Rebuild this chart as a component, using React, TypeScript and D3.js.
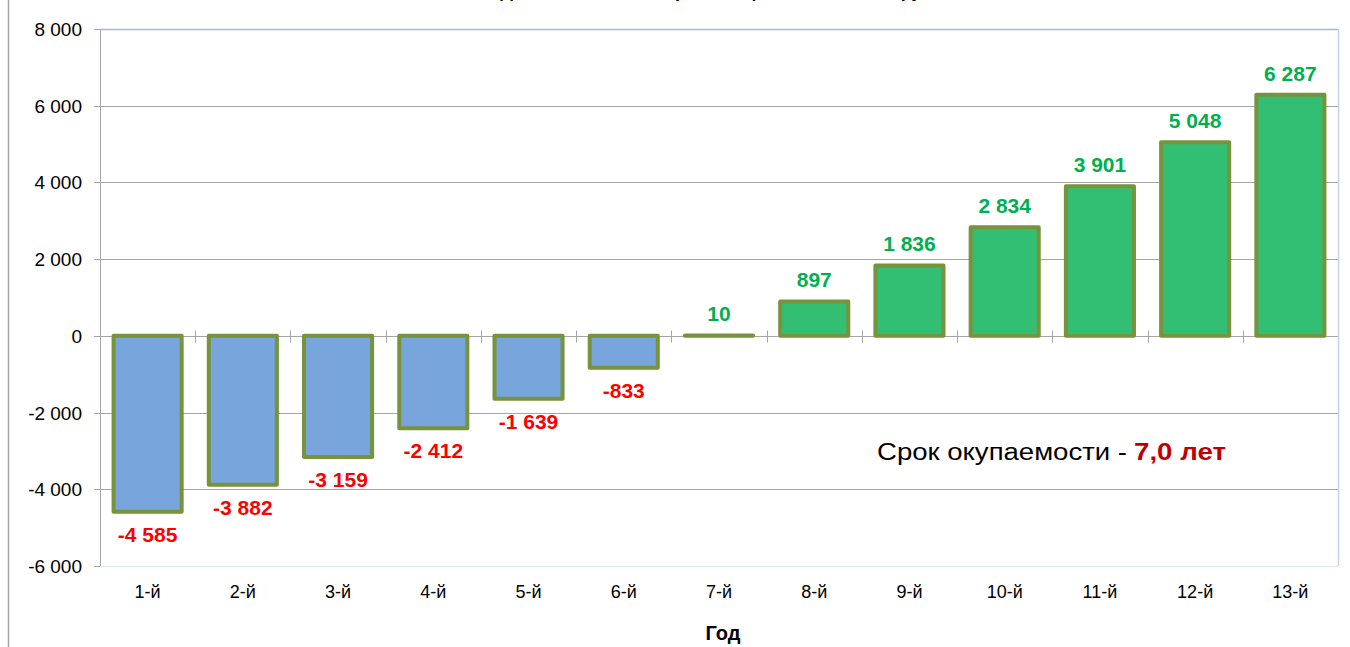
import React, { useRef, useEffect } from "react";
import * as d3 from "d3";

const years = ["1-й", "2-й", "3-й", "4-й", "5-й", "6-й", "7-й", "8-й", "9-й", "10-й", "11-й", "12-й", "13-й"];
const flows = [-4585, -3882, -3159, -2412, -1639, -833, 10, 897, 1836, 2834, 3901, 5048, 6287];
const yTicks = [-6000, -4000, -2000, 0, 2000, 4000, 6000, 8000];

const fmt = (v: number) => {
  const s = Math.abs(v).toString().replace(/\B(?=(\d{3})+(?!\d))/g, " ");
  return (v < 0 ? "-" : "") + s;
};

const App: React.FC = () => {
  const ref = useRef<SVGSVGElement>(null);

  useEffect(() => {
    if (!ref.current) return;
    const svg = d3.select(ref.current);
    svg.selectAll("*").remove();

    const left = 100, right = 1338, top = 29, bottom = 566;
    const font = "Arial, 'Liberation Sans', sans-serif";

    const x = d3.scaleBand().domain(years).range([left, right]).paddingInner(0.285).paddingOuter(0.1425);
    const xb = d3.scaleBand().domain(years).range([left, right]);
    const y = d3.scaleLinear().domain([-6000, 8000]).range([bottom, top]);

    // outer frame edge
    svg.append("line").attr("x1", 8.5).attr("x2", 8.5).attr("y1", 0).attr("y2", 647)
      .attr("stroke", "#a6a6a6").attr("stroke-width", 1.5);

    // title (mostly above the visible area, as in the source)
    svg.append("text").attr("x", 719).attr("y", -3).attr("text-anchor", "middle")
      .attr("font-family", font).attr("font-weight", "bold").attr("font-size", 18)
      .text("Денежный поток нарастающим итогом, тыс. руб.");

    // gridlines
    yTicks.forEach((t) => {
      const yy = Math.round(y(t)) + 0.5;
      let color = "#a6a6a6";
      if (t === 8000) color = "#a3b5d9";
      if (t === -6000) color = "#dce6f2";
      svg.append("line").attr("x1", left).attr("x2", right).attr("y1", yy).attr("y2", yy)
        .attr("stroke", color).attr("stroke-width", t === 8000 ? 1.5 : 1);
      svg.append("line").attr("x1", left - 6).attr("x2", left).attr("y1", yy).attr("y2", yy)
        .attr("stroke", "#a6a6a6");
      svg.append("text").attr("x", 82).attr("y", yy + 6.5).attr("text-anchor", "end")
        .attr("font-family", font).attr("font-size", 19).attr("fill", "#000").text(fmt(t));
    });

    // right border and left axis
    svg.append("line").attr("x1", right + 0.5).attr("x2", right + 0.5).attr("y1", top).attr("y2", bottom)
      .attr("stroke", "#c5d3ea").attr("stroke-width", 1.5);
    svg.append("line").attr("x1", left + 0.5).attr("x2", left + 0.5).attr("y1", top).attr("y2", bottom)
      .attr("stroke", "#a6a6a6");

    // category ticks on zero line
    const y0 = Math.round(y(0)) + 0.5;
    years.forEach((d, i) => {
      if (i === 0) return;
      const xx = Math.round(xb(d) as number) + 0.5;
      svg.append("line").attr("x1", xx).attr("x2", xx).attr("y1", y0 - 6).attr("y2", y0 + 6)
        .attr("stroke", "#a6a6a6");
    });

    // bars
    years.forEach((d, i) => {
      const v = flows[i];
      const x0 = x(d) as number;
      const yTop = y(Math.max(0, v));
      const h = Math.abs(y(v) - y(0));
      svg.append("rect").attr("x", x0).attr("y", yTop).attr("width", x.bandwidth()).attr("height", h)
        .attr("fill", v < 0 ? "#77a5dc" : "#33bf73")
        .attr("stroke", "#77933c").attr("stroke-width", 4).attr("stroke-linejoin", "round");
      const cx = x0 + x.bandwidth() / 2;
      svg.append("text").attr("x", cx)
        .attr("y", v < 0 ? y(v) + 30 : y(v) - 14)
        .attr("text-anchor", "middle").attr("font-family", font).attr("font-weight", "bold")
        .attr("font-size", 21).attr("fill", v < 0 ? "#ff0000" : "#00b050").text(fmt(v));
      svg.append("text").attr("x", (xb(d) as number) + xb.bandwidth() / 2).attr("y", 598)
        .attr("text-anchor", "middle").attr("font-family", font).attr("font-size", 18)
        .attr("fill", "#000").text(d);
    });

    // axis title
    svg.append("text").attr("x", 723).attr("y", 640).attr("text-anchor", "middle")
      .attr("font-family", font).attr("font-weight", "bold").attr("font-size", 20).text("Год");

    // payback note
    svg.append("text").attr("x", 877).attr("y", 460)
      .attr("font-family", font).attr("font-size", 23).attr("fill", "#000")
      .attr("textLength", 250).attr("lengthAdjust", "spacingAndGlyphs")
      .text("Срок окупаемости -");
    svg.append("text").attr("x", 1134).attr("y", 460)
      .attr("font-family", font).attr("font-size", 23).attr("font-weight", "bold").attr("fill", "#c00000")
      .attr("textLength", 92).attr("lengthAdjust", "spacingAndGlyphs")
      .text("7,0 лет");
  }, []);

  return (
    <svg ref={ref} width={1350} height={647}
      style={{ position: "absolute", left: 0, top: 0, background: "#fff" }} />
  );
};

export default App;
